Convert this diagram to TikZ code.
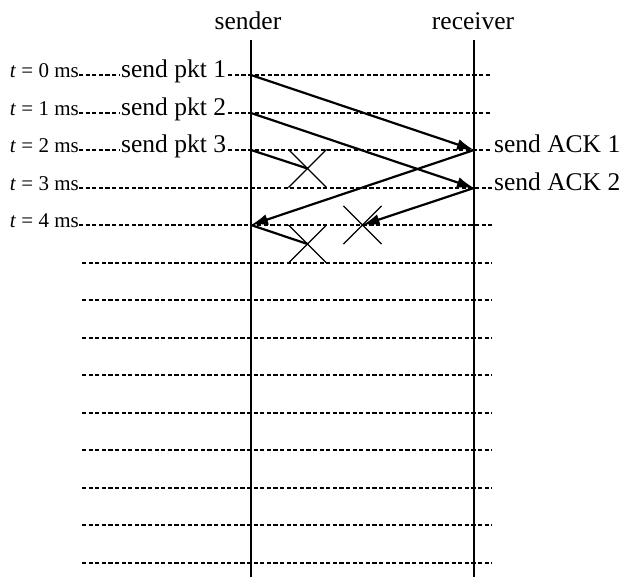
\documentclass[tikz,border=0pt]{standalone}
\usepackage{fontspec}
\setmainfont{Liberation Serif}
\usetikzlibrary{arrows.meta,shapes.misc}

\begin{document}
\begin{tikzpicture}[x=1pt,y=-1pt,
  lbl/.style={font=\fontsize{25.5}{28}\selectfont,inner sep=0pt},
  tlbl/.style={font=\fontsize{21}{24}\selectfont,inner sep=0pt,anchor=mid east},
  grid/.style={dash pattern=on 4.2pt off 2.4pt,line width=1.4pt},
  life/.style={line width=2.4pt},
  msg/.style={line width=2.2pt},
  lost/.style={draw,cross out,minimum size=37pt,inner sep=0pt,line width=1.2pt}]
	\tikzset{>={Latex[length=17pt,width=11pt]}}
  \useasboundingbox (0,0) rectangle (622,577);

  \node[lbl,anchor=base] (snd) at (248,30) {sender};
  \node[lbl,anchor=base] (rcv) at (473,30) {receiver};
  \coordinate (sndtop) at (251,40);
  \coordinate (sndbot) at (251,577);
  \coordinate (rcvtop) at (474,40);
  \coordinate (rcvbot) at (474,577);

  \foreach \i in {0,...,13} {
    \pgfmathsetmacro\yy{round(75+37.5*\i)}
    \coordinate (l\i) at (82,\yy);
    \coordinate (s\i) at (251,\yy);
    \coordinate (r\i) at (474,\yy);
    \coordinate (e\i) at (492,\yy);
  }

  \foreach \i in {0,...,4}
    \node[tlbl] (t\i) at ([xshift=-3pt]l\i) {\textit{t} = \i{} ms};
  \foreach \i/\n in {0/1,1/2,2/3}
    \node[lbl,anchor=mid west,inner xsep=2pt] (p\i) at ([xshift=37pt]l\i) {send pkt \n};
  \node[lbl,anchor=mid west] (a1) at ([xshift=2pt]e2) {send ACK 1};
  \node[lbl,anchor=mid west] (a2) at ([xshift=2pt]e3) {send ACK 2};

  \foreach \i in {0,1,2}
    \draw[grid] (t\i.mid east) -- (p\i.mid west) (p\i.mid east) -- (e\i);
  \foreach \i in {3,4}
    \draw[grid] (t\i.mid east) -- (e\i);
  \foreach \i in {5,...,13}
    \draw[grid] (l\i) -- (e\i);

  \draw[life] (sndtop) -- (sndbot);
  \draw[life] (rcvtop) -- (rcvbot);

  \draw[msg,->] (s0) -- (r2);
  \draw[msg,->] (s1) -- (r3);
  \node[lost] (x1) at (307.5,168.5) {};
  \draw[msg] (s2) -- (x1.center);
  \draw[msg,->] (r2) -- (s4);
  \node[lost] (x2) at (362.5,225) {};
  \draw[msg,->] (r3) -- (x2.center);
  \node[lost] (x3) at (307.5,244) {};
  \draw[msg] (s4) -- (x3.center);

\end{tikzpicture}
\end{document}
